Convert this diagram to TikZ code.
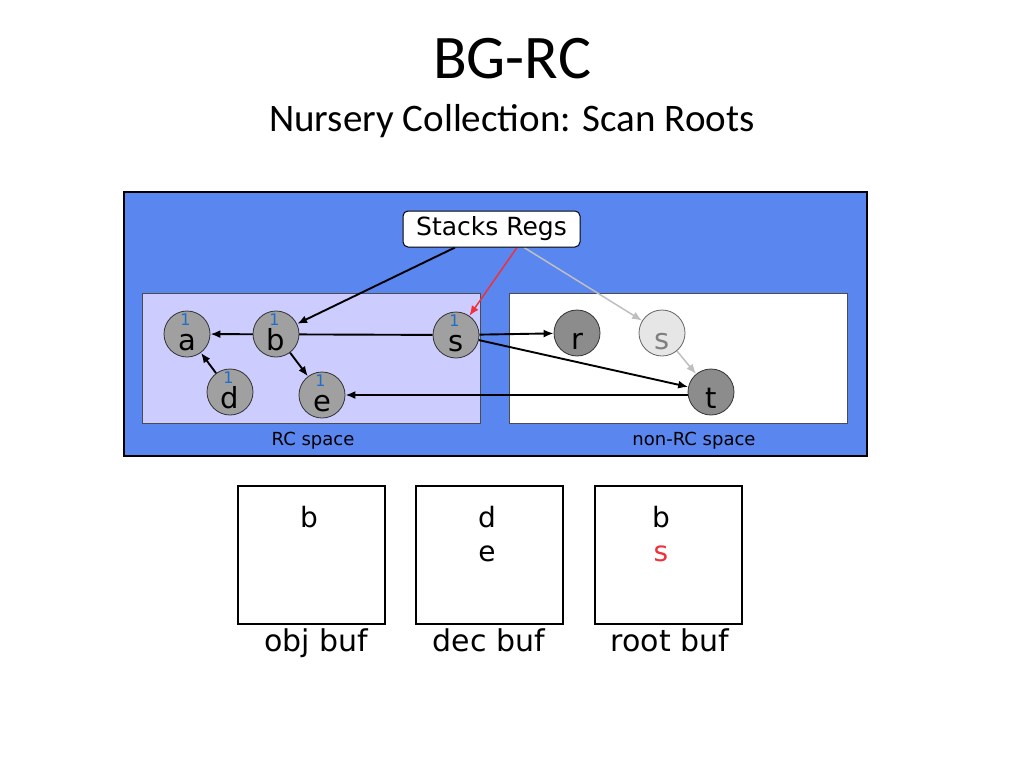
\documentclass[tikz,border=0pt]{standalone}
\usepackage{fontspec}
\setmainfont{Carlito}
\newfontfamily\comicfont{DejaVu Sans}
\usetikzlibrary{arrows.meta}
\pgfdeclarelayer{back}
\pgfdeclarelayer{links}
\pgfsetlayers{back,links,main}
\newcommand{\csz}[1]{\comicfont\fontsize{#1}{#1}\selectfont}
\definecolor{slideblue}{HTML}{5A86F0}
\definecolor{rclav}{HTML}{CCCCFF}
\definecolor{objgray}{HTML}{A0A0A0}
\definecolor{darkobj}{HTML}{8C8C8C}
\definecolor{ghostfill}{HTML}{E6E6E6}
\definecolor{countblue}{HTML}{1F6FC8}
\definecolor{rootred}{HTML}{F0303A}
\tikzset{
  obj/.style={circle, draw=black!80, line width=0.8pt, fill=objgray, minimum size=46pt,
    inner sep=0pt, text height=32pt, text depth=0pt, font=\csz{29}},
  countlbl/.style={text=countblue, font=\csz{16}, anchor=base, inner sep=0pt, yshift=14pt, xshift=-1.5pt},
  counted/.style={label={[countlbl]center:1}},
  ptr/.style={-{Latex[length=10pt,width=8pt]}, line width=1.9pt},
  buf/.style={draw, line width=1.5pt, minimum width=147pt, minimum height=138pt},
  bufitem/.style={anchor=base, font=\csz{28}, inner sep=0pt},
  buflbl/.style={anchor=base, font=\csz{30}, inner sep=0pt},
  spacelbl/.style={anchor=base, font=\csz{18}, inner sep=0pt}
}
\begin{document}
\begin{tikzpicture}[x=1pt,y=-1pt]
\useasboundingbox (0,0) rectangle (1024,768);

% titles
\node[anchor=base, font=\fontsize{62}{62}\selectfont, inner sep=0pt] (title) at (512,78) {BG-RC};
\node[anchor=base, font=\fontsize{39}{39}\selectfont, inner sep=0pt] (subtitle) at (512,131) {Nursery Collection: Scan Roots};

% heap spaces
\begin{pgfonlayer}{back}
  \fill[white] (0,0) rectangle (1024,768);
  \draw[fill=slideblue, line width=1.4pt] (124,192) rectangle (867,456);
  \draw[fill=rclav, draw=black!70, line width=0.8pt] (142,293) rectangle (480,423);
  \draw[fill=white, draw=black!70, line width=0.8pt] (509,293) rectangle (847,423);
\end{pgfonlayer}
\node[spacelbl] (rclbl) at (313,445) {RC space};
\node[spacelbl] (nonrclbl) at (694,445) {non-RC space};

% roots
\node[draw, fill=white, rounded corners=5pt, line width=1pt, minimum width=177pt,
  minimum height=36pt, inner sep=0pt, font=\csz{25}] (regs) at (491.5,229) {Stacks Regs};

% objects
\node[obj, counted] (a) at (187,334) {a};
\node[obj, counted] (b) at (276,334) {b};
\node[obj, counted] (s) at (456,335) {s};
\node[obj, counted] (d) at (230,392) {d};
\node[obj, counted] (e) at (322,395) {e};
\node[obj, fill=darkobj] (r) at (577,333) {r};
\node[obj, fill=ghostfill, draw=black!60, text=black!50] (sg) at (662,333) {s};
\node[obj, fill=darkobj] (t) at (711,392) {t};

% pointers
\begin{pgfonlayer}{links}
  \draw[ptr] ([xshift=-36.5pt]regs.south) -- (b);
  \draw[ptr, rootred, line width=1.5pt] ([xshift=25.5pt]regs.south) -- (s);
  \draw[ptr, black!25, line width=1.5pt] ([xshift=32.5pt]regs.south) -- (sg);
  \draw[ptr] (s) -- (a);
  \draw[ptr] (b) -- (e);
  \draw[ptr] (d) -- (a);
  \draw[ptr] (s) -- (r);
  \draw[ptr] (s) -- (t);
  \draw[ptr] ([yshift=-3pt]t.west) -- (e);
  \draw[ptr, black!25, line width=1.5pt] (sg) -- (t);
\end{pgfonlayer}

% buffers
\node[buf] (objbuf) at (311.5,555) {};
\node[buf] (decbuf) at (489.5,555) {};
\node[buf] (rootbuf) at (668.5,555) {};
\node[bufitem] (ob1) at (309,527) {b};
\node[bufitem] (db1) at (487,527) {d};
\node[bufitem] (db2) at (487,561) {e};
\node[bufitem] (rb1) at (661,527) {b};
\node[bufitem, text=rootred] (rb2) at (661,561) {s};
\node[buflbl] (objlbl) at (316,651) {obj buf};
\node[buflbl] (declbl) at (489,651) {dec buf};
\node[buflbl] (rootlbl) at (670,651) {root buf};
\end{tikzpicture}
\end{document}
